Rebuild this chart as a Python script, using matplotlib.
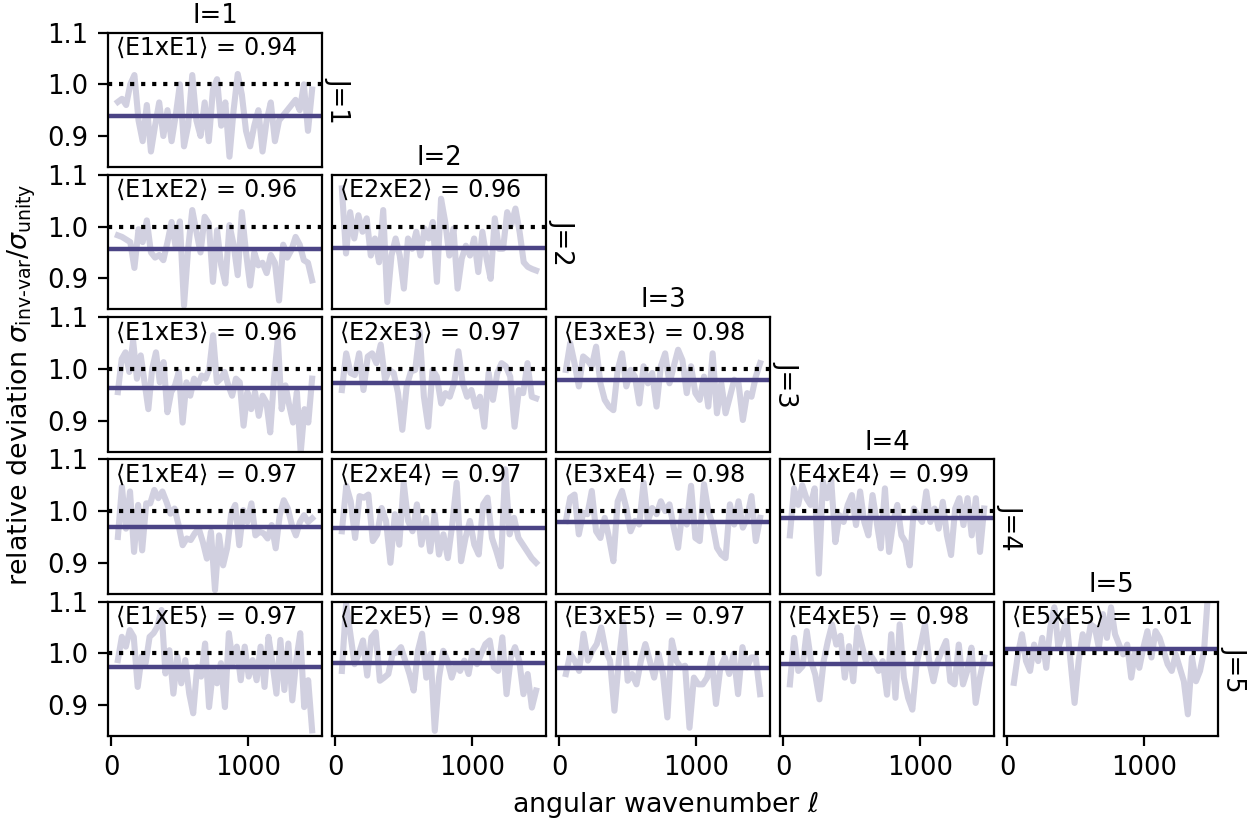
import numpy as np
import matplotlib.pyplot as plt

# multipole range of the binned ratio curves
ell_lo, ell_hi = 50, 1465

# ratio sigma_inv-var / sigma_unity per bin, one list per (I, J) pair
r11 = [0.966, 0.972, 0.96, 1.0, 1.018, 0.93, 0.89, 0.96, 0.87, 0.92, 0.965, 0.9, 0.95, 0.89, 0.94, 1.0,
       0.88, 0.92, 1.018, 0.93, 0.90, 0.965, 0.89, 0.99, 1.01, 0.92, 0.965, 0.86, 0.95, 1.02, 0.98, 0.91,
       0.88, 0.92, 0.95, 0.87, 0.93, 0.965, 0.89, 0.93, 0.94, 0.95, 0.96, 0.97, 0.95, 1.0, 0.91, 0.99]
r12 = [0.983, 0.98, 0.975, 0.97, 0.92, 0.995, 0.97, 1.012, 0.95, 0.94, 0.945, 0.935, 0.97, 1.009, 0.96, 1.01,
       0.847, 0.957, 1.032, 0.99, 0.95, 1.019, 1.006, 0.893, 0.993, 0.925, 0.89, 1.003, 0.965, 0.906, 1.028,
       0.95, 0.886, 0.95, 0.925, 0.93, 0.91, 0.945, 0.93, 0.857, 0.965, 0.94, 0.955, 0.98, 0.965, 0.935, 0.93, 0.896]
r22 = [1.074, 0.948, 1.028, 0.977, 1.022, 0.99, 1.016, 0.944, 0.977, 0.931, 1.032, 0.854, 0.944, 0.977, 0.944,
       0.88, 0.977, 0.957, 0.99, 0.944, 0.996, 0.977, 1.009, 0.893, 1.054, 1.009, 0.944, 0.996, 0.88, 0.938,
       0.963, 0.944, 0.977, 0.912, 0.99, 0.938, 0.899, 1.016, 0.957, 0.957, 1.028, 1.003, 1.035, 0.99, 0.931,
       0.922, 0.918, 0.915]
r13 = [0.955, 1.019, 1.032, 0.994, 1.055, 0.981, 1.026, 0.974, 0.922, 1.0, 1.032, 0.974, 1.013, 0.916, 0.955,
       0.968, 0.994, 0.896, 0.974, 0.948, 0.981, 0.968, 0.987, 0.981, 1.0, 1.065, 0.974, 0.981, 0.994, 0.968,
       0.948, 0.981, 0.974, 0.89, 0.955, 0.922, 0.955, 0.909, 0.948, 0.935, 0.877, 0.981, 1.058, 0.922, 0.968,
       0.929, 0.896, 0.955, 0.838, 0.922, 0.896, 0.981]
r23 = [0.959, 1.03, 0.992, 0.988, 1.03, 0.959, 1.024, 1.03, 1.011, 1.047, 0.979, 0.998, 0.992, 0.953, 0.882,
       0.966, 0.995, 0.998, 1.072, 0.946, 0.888, 0.998, 0.985, 0.933, 0.953, 0.946, 0.972, 1.034, 0.972, 0.946,
       0.959, 0.927, 0.946, 0.888, 0.992, 0.94, 0.992, 1.011, 1.005, 0.985, 0.888, 0.959, 0.953, 1.011, 0.946, 0.943]
r33 = [0.998, 1.05, 1.011, 0.966, 1.024, 1.017, 1.005, 1.043, 0.972, 0.94, 0.927, 0.92, 0.998, 1.03, 0.966,
       0.998, 0.985, 0.933, 1.005, 0.972, 0.992, 0.927, 1.005, 1.03, 0.972, 1.005, 1.037, 1.017, 0.953, 1.005,
       0.953, 0.94, 0.985, 0.927, 1.03, 0.914, 0.972, 0.914, 0.946, 0.979, 0.972, 0.901, 0.953, 0.946, 0.985, 1.011]
r14 = [0.95, 1.047, 0.966, 1.038, 0.921, 1.012, 0.924, 1.015, 1.015, 1.041, 1.025, 1.038, 1.018, 0.995, 1.005,
       0.973, 0.934, 0.947, 0.944, 0.957, 0.966, 0.94, 0.908, 0.96, 0.847, 0.953, 0.895, 0.928, 0.995, 1.012,
       0.934, 1.002, 0.979, 1.015, 0.953, 0.96, 0.957, 0.947, 0.973, 0.928, 0.992, 1.021, 1.005, 0.973, 0.953,
       0.979, 0.992, 0.979, 0.986]
r24 = [0.961, 1.049, 1.019, 0.948, 1.029, 1.026, 1.032, 0.942, 0.955, 1.006, 0.981, 0.9, 0.994, 0.935, 1.055,
       0.981, 0.961, 1.013, 0.935, 0.987, 0.922, 0.994, 0.916, 0.955, 0.909, 0.974, 1.055, 0.903, 0.948, 0.981,
       0.935, 0.916, 1.013, 1.026, 0.948, 0.922, 0.893, 1.081, 0.955, 0.987, 0.948, 0.935, 0.922, 0.909, 0.9]
r34 = [0.981, 1.026, 1.032, 0.955, 0.997, 0.994, 1.039, 0.961, 0.948, 0.987, 0.948, 0.903, 1.019, 1.039, 1.006,
       0.961, 0.981, 0.974, 1.055, 0.981, 1.006, 0.994, 1.019, 1.0, 1.013, 0.968, 0.929, 1.0, 0.974, 1.049,
       0.948, 0.942, 1.052, 1.0, 0.974, 0.929, 0.916, 0.909, 1.013, 0.974, 1.019, 0.968, 0.987, 1.029, 0.942, 0.987]
r44 = [0.953, 1.044, 1.012, 1.05, 1.025, 1.012, 1.044, 0.879, 1.057, 1.025, 1.06, 0.94, 0.992, 0.979, 1.012,
       1.031, 0.973, 1.038, 0.979, 0.953, 1.031, 0.979, 0.928, 1.044, 0.921, 0.979, 1.012, 0.953, 0.94, 0.895,
       1.005, 0.992, 0.979, 1.038, 0.979, 1.005, 0.966, 1.018, 0.953, 0.915, 1.005, 1.025, 0.973, 1.025, 0.953,
       1.025, 0.921, 1.005]
r15 = [0.987, 1.032, 1.013, 1.045, 1.032, 0.935, 0.994, 0.981, 1.032, 1.039, 1.052, 1.084, 0.961, 1.006, 0.922,
       0.994, 0.942, 0.987, 0.922, 0.884, 0.974, 0.955, 1.019, 0.896, 0.968, 0.942, 0.981, 0.896, 1.039, 0.981,
       1.013, 0.948, 1.013, 0.955, 0.987, 0.948, 1.013, 0.935, 1.032, 0.981, 0.922, 1.026, 0.929, 1.019, 0.909,
       0.987, 1.039, 0.896, 0.948, 0.851]
r25 = [0.966, 1.096, 1.038, 0.979, 0.999, 1.025, 0.957, 1.031, 1.041, 0.947, 0.953, 0.96, 0.999, 1.002, 1.012,
       0.986, 0.96, 0.928, 1.005, 1.038, 0.953, 0.999, 0.85, 0.953, 1.005, 0.986, 0.953, 0.979, 0.966, 0.986,
       0.96, 1.005, 0.979, 0.999, 1.018, 1.025, 0.973, 0.966, 1.031, 0.921, 0.992, 1.012, 0.986, 0.921, 0.96,
       0.895, 0.928]
r35 = [0.96, 0.999, 0.986, 0.966, 1.038, 0.986, 1.005, 1.018, 1.05, 1.005, 0.986, 0.889, 0.986, 1.06, 0.947,
       0.96, 0.94, 0.986, 1.018, 0.986, 0.953, 0.999, 0.96, 0.876, 1.025, 0.986, 0.973, 0.976, 0.856, 0.953,
       0.94, 0.94, 0.953, 0.992, 0.902, 0.973, 0.992, 0.96, 0.999, 0.921, 1.012, 0.973, 0.992, 0.992, 0.921]
r45 = [0.94, 1.03, 0.966, 0.975, 1.043, 0.985, 0.959, 0.911, 0.985, 1.024, 1.056, 1.017, 1.034, 0.953, 1.014,
       0.946, 1.05, 1.017, 0.985, 0.998, 0.985, 0.966, 0.985, 0.92, 1.037, 0.914, 1.056, 0.953, 0.914, 0.891,
       0.979, 1.017, 1.056, 0.985, 0.946, 0.985, 1.005, 1.024, 0.946, 0.94, 1.017, 0.94, 0.966, 1.011, 0.904,
       0.953, 0.992]
r55 = [0.943, 0.998, 1.037, 0.985, 0.966, 1.017, 0.985, 1.03, 0.972, 1.05, 1.089, 1.011, 1.037, 1.063, 0.985,
       0.904, 0.985, 1.037, 1.011, 1.056, 1.05, 1.011, 1.076, 1.03, 1.089, 1.037, 1.017, 0.998, 1.017, 0.953,
       1.005, 0.972, 1.011, 1.043, 0.992, 1.043, 1.03, 1.005, 0.979, 0.966, 0.998, 0.972, 0.946, 0.882, 0.992,
       0.946, 0.966, 1.005, 1.12]

# (I, J) -> (curve, mean ratio)
panels = {
    (1, 1): (r11, 0.939),
    (1, 2): (r12, 0.956), (2, 2): (r22, 0.959),
    (1, 3): (r13, 0.962), (2, 3): (r23, 0.973), (3, 3): (r33, 0.979),
    (1, 4): (r14, 0.970), (2, 4): (r24, 0.968), (3, 4): (r34, 0.979), (4, 4): (r44, 0.986),
    (1, 5): (r15, 0.974), (2, 5): (r25, 0.981), (3, 5): (r35, 0.972), (4, 5): (r45, 0.980), (5, 5): (r55, 1.008),
}

col = '#4b4485'
W, H = 1259, 824
fig = plt.figure(figsize=(W / 200, H / 200), dpi=200)

left0, dx, aw = 108, 224, 214
top0, dy, ah = 32.7, 142.25, 134.3
fs = 9.3

for (I, J), (vals, m) in panels.items():
    x0 = left0 + (I - 1) * dx
    y0 = top0 + (J - 1) * dy
    ax = fig.add_axes([x0 / W, 1 - (y0 + ah) / H, aw / W, ah / H])
    ell = np.linspace(ell_lo, ell_hi, len(vals))
    ax.plot(ell, vals, color=col, alpha=0.25, lw=2.2)
    ax.axhline(m, color=col, lw=1.6)
    ax.axhline(1.0, color='k', ls=':', lw=1.5)
    ax.set_xlim(-22, 1537)
    ax.set_ylim(0.84, 1.1)
    ax.set_xticks([0, 1000])
    ax.set_yticks([0.9, 1.0, 1.1])
    ax.tick_params(labelsize=fs)
    if I != 1:
        ax.tick_params(left=False, labelleft=False)
    if J != 5:
        ax.tick_params(bottom=False, labelbottom=False)
    ax.text(0.035, 0.985, r'$\langle$E%dxE%d$\rangle$ = %.2f' % (I, J, m),
            transform=ax.transAxes, va='top', ha='left', fontsize=8.6)
    if I == J:
        ax.set_title('I=%d' % I, fontsize=fs, pad=3.5)
        ax.text(1.015, 0.5, 'J=%d' % J, transform=ax.transAxes, rotation=270,
                va='center', ha='left', fontsize=fs)

fig.text(22 / W, 1 - 385 / H, r'relative deviation $\sigma_{\text{inv-var}}/\sigma_{\text{unity}}$',
         rotation=90, va='center', ha='center', fontsize=9.7)
fig.text(665 / W, 1 - 805 / H, r'angular wavenumber $\ell$', va='center', ha='center', fontsize=9.7)

fig.savefig('out.png', dpi=200)
